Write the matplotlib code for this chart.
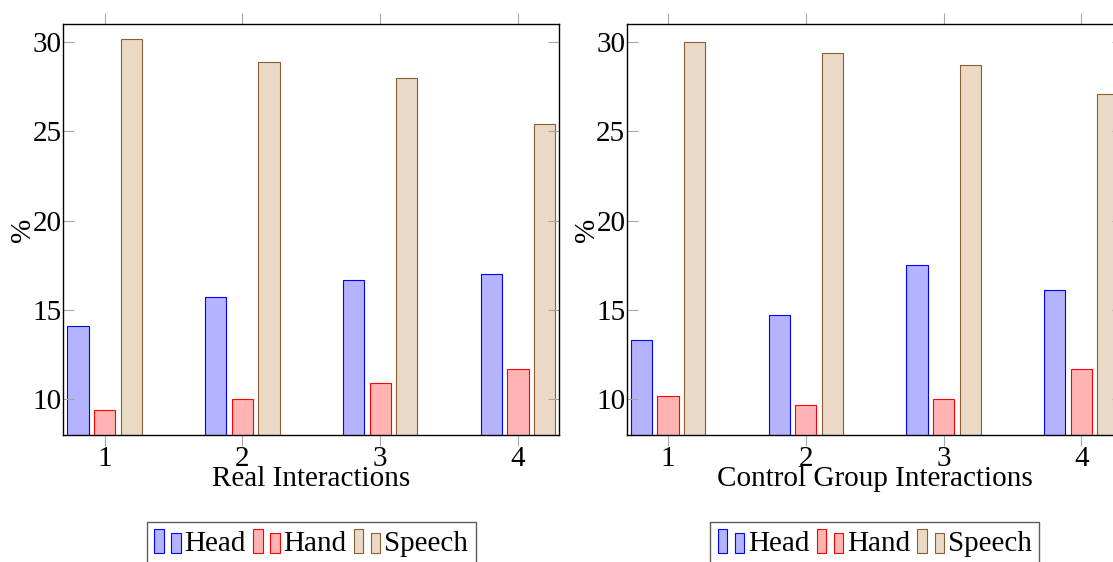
import numpy as np
import matplotlib
matplotlib.use("Agg")
import matplotlib.pyplot as plt
from matplotlib.patches import Rectangle
from matplotlib.legend_handler import HandlerBase

# Share of interaction modality (%) per session
sessions = [1, 2, 3, 4]
series_names = ["Head", "Hand", "Speech"]

real_head = [14.1, 15.7, 16.7, 17.0]
real_hand = [9.4, 10.0, 10.9, 11.7]
real_speech = [30.2, 28.9, 28.0, 25.4]

control_head = [13.3, 14.7, 17.5, 16.1]
control_hand = [10.2, 9.7, 10.0, 11.7]
control_speech = [30.0, 29.4, 28.7, 27.1]

y_ticks = [10, 15, 20, 25, 30]

FILLS = ["#b3b3ff", "#ffb3b3", "#ead9c5"]
EDGES = ["#0000ff", "#ff0000", "#8b5e34"]
TICK_GREY = "#a6a6a6"
FS = 21

plt.rcParams["font.family"] = ["Liberation Serif", "DejaVu Serif"]


class TwoBarHandler(HandlerBase):
    """Legend glyph made of two small bars, tall one then short one."""

    def create_artists(self, legend, orig_handle, xdescent, ydescent,
                       width, height, fontsize, trans):
        bw = width * 0.35
        full = height + ydescent
        out = []
        for x, h in [(-xdescent, full), (-xdescent + width - bw, full * 0.8)]:
            r = Rectangle((x, -ydescent), bw, h,
                          facecolor=orig_handle.get_facecolor(),
                          edgecolor=orig_handle.get_edgecolor(),
                          linewidth=orig_handle.get_linewidth(),
                          transform=trans)
            out.append(r)
        return out


def draw_panel(ax, head, hand, speech, xlabel):
    x = np.array(sessions, dtype=float)
    handles = []
    for k, vals in enumerate([head, hand, speech]):
        bars = ax.bar(x + (k - 1) * 0.193, vals, width=0.155,
                      color=FILLS[k], edgecolor=EDGES[k], linewidth=0.8,
                      label=series_names[k])
        handles.append(bars.patches[0])

    ax.set_xlim(0.7, 4.3)
    ax.set_ylim(7.98, 31.0)
    ax.set_xticks(sessions)
    ax.set_yticks(y_ticks)
    ax.tick_params(axis="x", direction="out", length=8, width=0.8,
                   color=TICK_GREY, top=True, bottom=True, pad=0,
                   labelsize=FS)
    ax.tick_params(axis="y", direction="in", length=8, width=0.8,
                   color=TICK_GREY, left=True, right=True, pad=1,
                   labelsize=FS)
    for sp in ax.spines.values():
        sp.set_linewidth(1.0)

    ax.set_xlabel(xlabel, fontsize=FS)
    ax.xaxis.set_label_coords(0.5, -0.075)
    ax.text(-0.081, 0.5, "%", rotation=90, ha="center", va="center",
            fontsize=FS, transform=ax.transAxes)

    leg = ax.legend(handles=handles, labels=series_names,
                    handler_map={Rectangle: TwoBarHandler()},
                    loc="upper center", bbox_to_anchor=(0.5, -0.2117),
                    ncol=3, frameon=True, fancybox=False, edgecolor="#333333",
                    handlelength=0.9, handleheight=0.83, handletextpad=0.14,
                    columnspacing=0.25, borderpad=0.26, borderaxespad=0,
                    fontsize=FS)
    leg.get_frame().set_linewidth(1.0)


fig = plt.figure(figsize=(11.13, 5.62), dpi=100)
W, H = 1113.0, 562.0
ax_w, ax_h = 496 / W, 411 / H
ax_bottom = (H - 435.3) / H
ax1 = fig.add_axes([63.3 / W, ax_bottom, ax_w, ax_h])
ax2 = fig.add_axes([626.7 / W, ax_bottom, ax_w, ax_h])

draw_panel(ax1, real_head, real_hand, real_speech, "Real Interactions")
draw_panel(ax2, control_head, control_hand, control_speech,
           "Control Group Interactions")

fig.savefig("out.png", dpi=100)
